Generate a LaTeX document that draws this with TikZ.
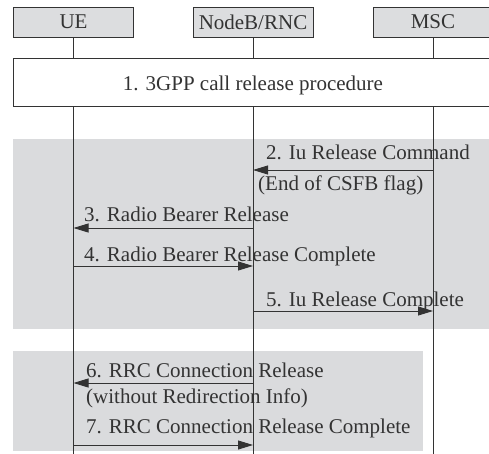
\documentclass[tikz,border=0pt]{standalone}
\usepackage{fontspec}
\setmainfont{Liberation Serif}
\usetikzlibrary{arrows.meta}
\definecolor{bandgray}{HTML}{DADBDD}
\definecolor{boxgray}{HTML}{DCDDDF}
\definecolor{inkgray}{HTML}{333333}
\tikzset{
  hdr/.style={draw=inkgray, fill=boxgray, line width=0.9pt, minimum width=120pt, minimum height=30pt, inner sep=0pt, text=inkgray, font=\fontsize{21}{25}\selectfont},
  procbox/.style={draw=inkgray, fill=white, line width=0.9pt, minimum height=48pt, inner sep=0pt},
  life/.style={draw=inkgray, line width=0.9pt},
  msg/.style={draw=inkgray, line width=0.9pt, -{Triangle[length=15pt,width=9pt]}},
  lbl/.style={anchor=base west, inner sep=0pt, text=inkgray, font=\fontsize{21}{25}\selectfont},
  band/.style={fill=bandgray, draw=none}
}
\begin{document}
\begin{tikzpicture}[x=1pt,y=-1pt]
\useasboundingbox (0,0) rectangle (489,453);
\clip (0,0) rectangle (489,453);
\fill[white] (0,0) rectangle (489,453);
% background bands
\fill[band] (13,139) rectangle (495,329);
\fill[band] (13,351) rectangle (423,451);
% headers
\node[hdr] (ue)  at (73.5,22) {UE};
\node[hdr] (rnc) at (253,22) {NodeB/RNC};
\node[hdr] (msc) at (433,22) {MSC};
% procedure box
\path (13,58) coordinate (pl) (495,106) coordinate (pr);
\node[procbox, minimum width=482pt, anchor=north west] (proc) at (13,58) {};
\node[lbl, anchor=base] (proctxt) at (253,90) {1. 3GPP call release procedure};
\coordinate (bot) at (0,460);
% lifelines
\draw[life] (ue.south) -- (ue |- proc.north);
\draw[life] (rnc.south) -- (rnc |- proc.north);
\draw[life] (msc.south) -- (msc |- proc.north);
\draw[life] (ue |- proc.south) -- (ue |- bot);
\draw[life] (rnc |- proc.south) -- (rnc |- bot);
\draw[life] (msc |- proc.south) -- (msc |- bot);
% messages
\draw[msg] (msc |- 0,170) -- (rnc |- 0,170);
\node[lbl] (m2) at (266,159) {2. Iu Release Command};
\node[lbl] (m2b) at (258,190) {(End of CSFB flag)};
\draw[msg] (rnc |- 0,228) -- (ue |- 0,228);
\node[lbl] (m3) at (84,221) {3. Radio Bearer Release};
\draw[msg] (ue |- 0,266) -- (rnc |- 0,266);
\node[lbl] (m4) at (84,261) {4. Radio Bearer Release Complete};
\draw[msg] (rnc |- 0,311) -- (msc |- 0,311);
\node[lbl] (m5) at (266,306) {5. Iu Release Complete};
\draw[msg] (rnc |- 0,383) -- (ue |- 0,383);
\node[lbl] (m6) at (86,377) {6. RRC Connection Release};
\node[lbl] (m6b) at (86,403) {(without Redirection Info)};
\draw[msg] (ue |- 0,445) -- (rnc |- 0,445);
\node[lbl] (m7) at (86,433) {7. RRC Connection Release Complete};
\end{tikzpicture}
\end{document}
